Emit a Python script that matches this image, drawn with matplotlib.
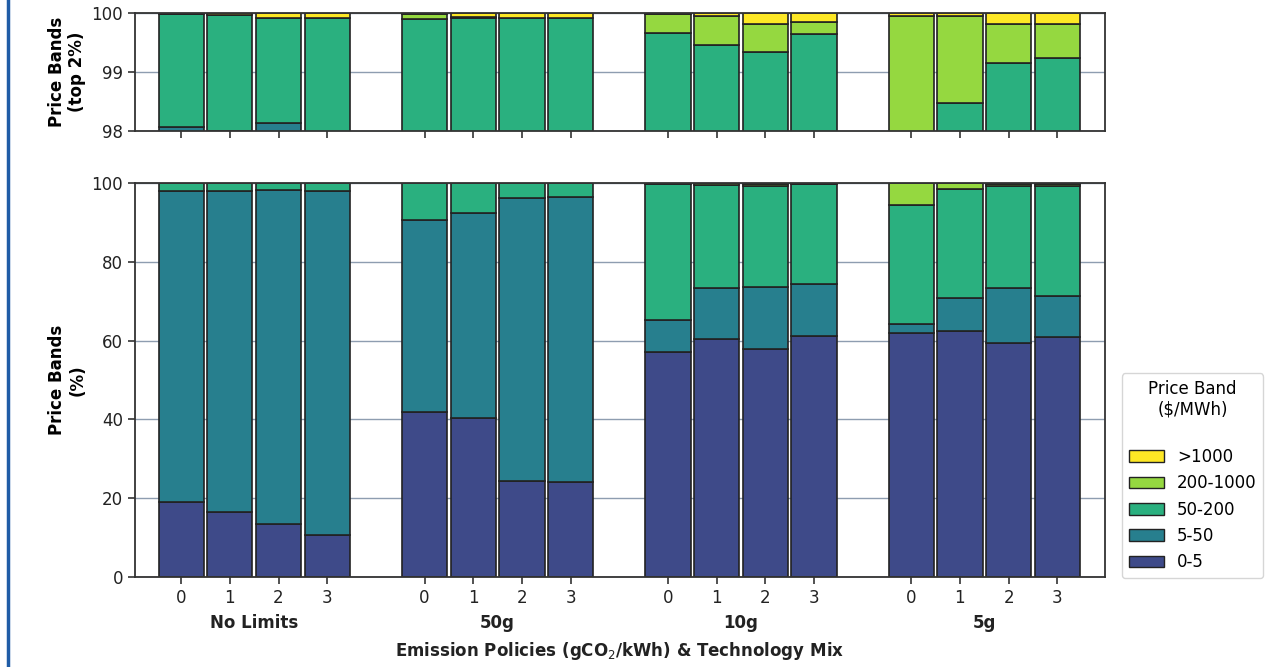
#!/usr/bin/env python3
"""Stacked price-band shares per emission policy and technology mix."""

import matplotlib

matplotlib.use("Agg")
import matplotlib.pyplot as plt
import numpy as np
from matplotlib.lines import Line2D
from matplotlib.patches import Patch

policies = ["No Limits", "50g", "10g", "5g"]
tech_mix = ["0", "1", "2", "3"]
bands = ["0-5", "5-50", "50-200", "200-1000", ">1000"]
band_colors = ["#3e4a89", "#277f8e", "#2ab07f", "#95d840", "#fde725"]

# share of hours (%) in each price band, 4 policies x 4 tech mixes
band_0_5 = [19.0, 16.6, 13.5, 10.7,
            41.9, 40.4, 24.4, 24.2,
            57.2, 60.3, 57.8, 61.2,
            61.9, 62.4, 59.4, 61.0]
band_5_50 = [79.07, 81.4, 84.64, 87.29,
             48.6, 52.1, 71.7, 72.2,
             8.1, 13.0, 15.8, 13.1,
             2.3, 8.3, 13.9, 10.4]
band_50_200 = [1.91, 1.96, 1.77, 1.92,
               9.4, 7.41, 3.81, 3.51,
               34.36, 26.16, 25.74, 25.35,
               30.3, 27.77, 25.86, 27.84]
band_200_1000 = [0.0, 0.0, 0.0, 0.0,
                 0.09, 0.03, 0.0, 0.0,
                 0.32, 0.49, 0.47, 0.19,
                 5.45, 1.48, 0.65, 0.57]
band_over_1000 = [0.02, 0.04, 0.09, 0.09,
                  0.01, 0.06, 0.09, 0.09,
                  0.02, 0.05, 0.19, 0.16,
                  0.05, 0.05, 0.19, 0.19]


def draw_stack(ax, x, shares):
    bottom = np.zeros(len(x))
    for vals, color in zip(shares, band_colors):
        vals = np.asarray(vals, dtype=float)
        ax.bar(x, vals, bottom=bottom, width=0.93, color=color,
               edgecolor="#222222", linewidth=1.2, zorder=2)
        bottom += vals


def style_axes(ax):
    ax.set_axisbelow(True)
    ax.yaxis.grid(True, color="#8e9db0", linewidth=1.0)
    for sp in ax.spines.values():
        sp.set_color("#333333")
        sp.set_linewidth(1.3)
    ax.tick_params(axis="both", labelsize=12, length=5, width=1.2,
                   color="#333333", labelcolor="#222222")


def main():
    plt.rcParams["font.family"] = ["DejaVu Sans"]
    fig = plt.figure(figsize=(12.66, 6.67), dpi=100)
    ax_top = fig.add_axes([0.1066, 0.8036, 0.7662, 0.1769])
    ax_bot = fig.add_axes([0.1066, 0.1349, 0.7662, 0.5907])

    x = np.array([5 * g + i for g in range(len(policies)) for i in range(len(tech_mix))])
    shares = [band_0_5, band_5_50, band_50_200, band_200_1000, band_over_1000]

    for ax in (ax_top, ax_bot):
        draw_stack(ax, x, shares)
        style_axes(ax)
        ax.set_xlim(-0.95, 18.98)
        ax.set_xticks(x)

    ax_top.set_ylim(98, 100)
    ax_top.set_yticks([98, 99, 100])
    ax_top.set_xticklabels([])
    ax_top.set_ylabel("Price Bands\n(top 2%)", fontsize=12, fontweight="bold")
    ax_top.yaxis.set_label_coords(-0.05, 0.5)

    ax_bot.set_ylim(0, 100)
    ax_bot.set_yticks([0, 20, 40, 60, 80, 100])
    ax_bot.set_xticklabels(tech_mix * len(policies))
    ax_bot.set_ylabel("Price Bands\n(%)", fontsize=12, fontweight="bold")
    ax_bot.yaxis.set_label_coords(-0.05, 0.5)

    trans = ax_bot.get_xaxis_transform()
    for g, name in enumerate(policies):
        ax_bot.text(5 * g + 1.5, -0.117, name, transform=trans, ha="center",
                    va="center", fontsize=12, fontweight="bold", color="#222222")
    ax_bot.text(0.5, -0.188, "Emission Policies (gCO$_2$/kWh) & Technology Mix",
                transform=ax_bot.transAxes, ha="center", va="center",
                fontsize=12, fontweight="bold", color="#222222")

    handles = [Patch(facecolor=c, edgecolor="#222222", linewidth=1.0, label=b)
               for b, c in zip(bands, band_colors)][::-1]
    leg = fig.legend(handles=handles, title="Price Band\n($/MWh)\n",
                     loc="lower left", bbox_to_anchor=(1122 / 1266, 1 - 578 / 667),
                     borderaxespad=0.0, fontsize=12, title_fontsize=12,
                     frameon=True, handlelength=2.1, labelspacing=0.5)
    leg.get_title().set_ha("center")
    leg.get_frame().set_edgecolor("#cccccc")

    fig.add_artist(Line2D([0.0066, 0.0066], [0, 1], color="#1f5ca6",
                          linewidth=2.5, transform=fig.transFigure))

    fig.savefig("out.png", dpi=100)
    return 0


if __name__ == "__main__":
    raise SystemExit(main())
